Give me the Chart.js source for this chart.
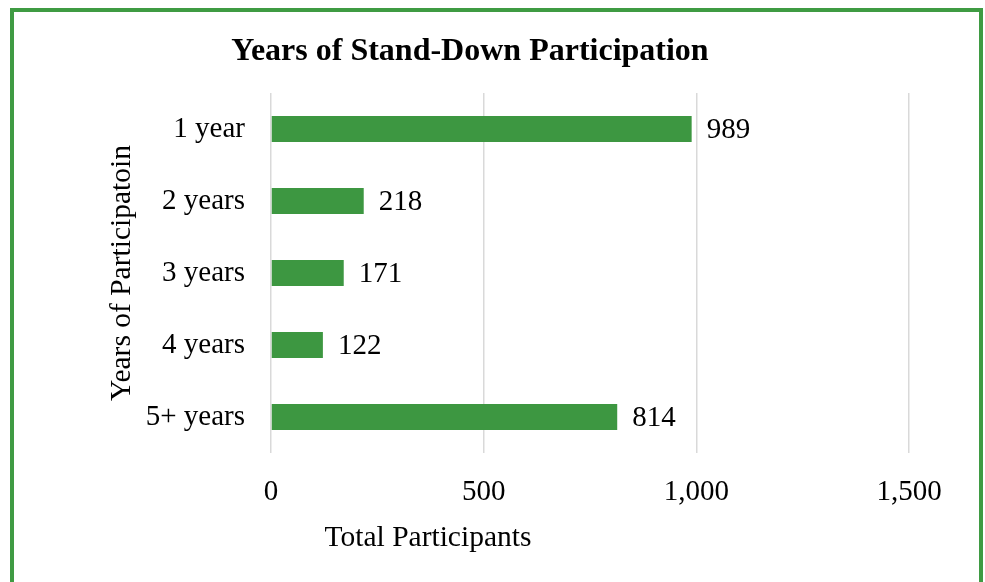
<!DOCTYPE html>
<html>
<head>
<meta charset="utf-8">
<script src="https://cdn.jsdelivr.net/npm/chart.js@4"></script>
<style>
  html, body { margin: 0; padding: 0; background: #fff; overflow: hidden; }
  #wrap { position: relative; width: 985px; height: 582px; }
  #frame {
    position: absolute; left: 10px; top: 8px; width: 973px; height: 620px;
    border: 4px solid #3f9b43; box-sizing: border-box; pointer-events: none;
  }
  canvas { position: absolute; left: 0; top: 0; }
</style>
</head>
<body>
<div id="wrap">
  <canvas id="yearsChart" width="985" height="582"></canvas>
  <div id="frame"></div>
</div>
<script>
const categories = ['1 year', '2 years', '3 years', '4 years', '5+ years'];
const participants = [989, 218, 171, 122, 814];
const xTicks = [0, 500, 1000, 1500];

const chartTitle = 'Years of Stand-Down Participation';
const xTitle = 'Total Participants';
const yTitle = 'Years of Participatoin';

const serif = '"Liberation Serif", "Times New Roman", serif';
const green = '#3d9741';

// titles and value labels, drawn on top of the chart
const labelsPlugin = {
  id: 'labels',
  afterDatasetsDraw(chart) {
    const ctx = chart.ctx;
    ctx.save();
    ctx.fillStyle = '#000';

    ctx.font = 'bold 32px ' + serif;
    ctx.textAlign = 'center';
    ctx.textBaseline = 'alphabetic';
    ctx.fillText(chartTitle, 470, 60);

    ctx.font = '29.5px ' + serif;
    ctx.fillText(xTitle, 428, 546);

    ctx.font = '29px ' + serif;
    ctx.textAlign = 'left';
    ctx.textBaseline = 'middle';
    chart.getDatasetMeta(0).data.forEach((bar, i) => {
      ctx.fillText(participants[i], bar.x + 15, bar.y + 1);
    });
    ctx.restore();
  }
};

const ctx = document.getElementById('yearsChart');
new Chart(ctx, {
  type: 'bar',
  data: {
    labels: categories,
    datasets: [
      {
        label: 'Participants',
        data: participants,
        backgroundColor: green,
        borderWidth: 0,
        categoryPercentage: 0.6,
        barPercentage: 0.6,
      }
    ],
  },
  options: {
    indexAxis: 'y',
    responsive: false,
    animation: false,
    layout: { padding: { left: 104, right: 76, top: 93, bottom: 0 } },
    plugins: {
      legend: { display: false },
      title: { display: false },
      tooltip: { enabled: false },
    },
    scales: {
      x: {
        min: 0,
        max: 1500,
        afterBuildTicks: (scale) => { scale.ticks = xTicks.map(v => ({ value: v })); },
        afterFit: (scale) => { scale.height = 129; },
        border: { display: false },
        grid: { color: '#d9d9d9', lineWidth: 1.5, drawTicks: false },
        ticks: {
          padding: 22,
          color: '#000',
          font: { family: serif, size: 29 },
          callback: (v) => v.toLocaleString('en-US'),
        },
      },
      y: {
        afterFit: (scale) => { scale.width = 167; },
        border: { display: false },
        grid: { display: false, drawTicks: false },
        ticks: {
          padding: 26,
          color: '#000',
          font: { family: serif, size: 29 },
        },
        title: {
          display: true,
          text: yTitle,
          color: '#000',
          font: { family: serif, size: 29.5 },
          padding: { top: 1, bottom: 0 },
        },
      },
    },
  },
  plugins: [labelsPlugin],
});
</script>
</body>
</html>
